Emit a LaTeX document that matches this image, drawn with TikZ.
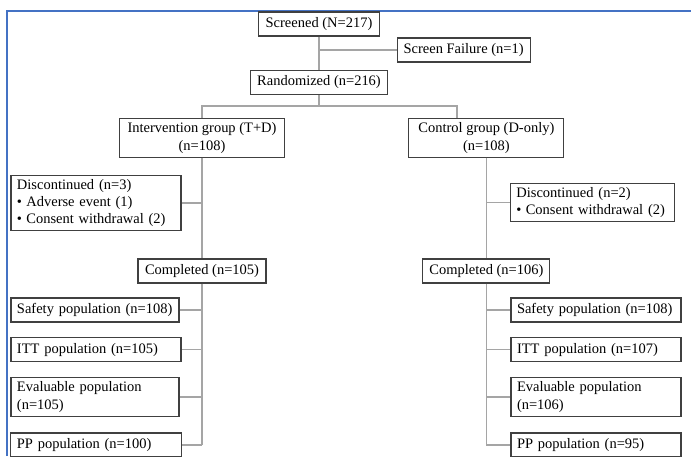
\documentclass[tikz,border=0pt]{standalone}
\usepackage{fontspec}
\setmainfont{Liberation Serif}
\usepackage{tikz}
\usetikzlibrary{positioning,calc}
\definecolor{FrameBlue}{RGB}{68,114,196}
\definecolor{BoxGray}{RGB}{64,64,64}
\definecolor{LinkGray}{RGB}{165,165,165}
\newcommand{\bul}{\textbullet\hspace{0.3em}}

\begin{document}
\begin{tikzpicture}[
 box/.style={draw=BoxGray, line width=0.8pt, fill=white, align=center, minimum height=0.6cm, inner xsep=0.15cm, inner ysep=0.1cm},
 lbox/.style={box, align=left},
 link/.style={draw=LinkGray, line width=0.8pt},
 blueline/.style={draw=FrameBlue, line width=1.4pt},
 font=\fontsize{10.3}{12.2}\selectfont
]
\useasboundingbox (0,0) rectangle (17.275,11.4);
\draw[blueline] (0.175,0) -- (0.175,11.125) -- (17.275,11.125);

\node[box, minimum width=3.025cm] (screened) at (7.975,10.8) {Screened (N=217)};
\node[box, minimum width=3.325cm] (fail) at (11.59,10.15) {Screen Failure (n=1)};
\node[box, minimum width=3.425cm] (rand) at (7.975,9.34) {Randomized (n=216)};
\node[box, minimum width=4.125cm] (interv) at (5.05,7.95) {Intervention group (T+D)\\(n=108)};
\node[box, minimum width=3.875cm] (ctrl) at (12.16,7.95) {Control group (D-only)\\(n=108)};
\node[lbox, text width=3.95cm] (discL) at (2.4,6.325) {Discontinued (n=3)\\\bul Adverse event (1)\\\bul Consent withdrawal (2)};
\node[lbox, text width=3.8cm] (discR) at (14.81,6.34) {Discontinued (n=2)\\\bul Consent withdrawal (2)};
\node[box, minimum width=3.2cm] (complL) at (5.05,4.625) {Completed (n=105)};
\node[box, minimum width=3.175cm] (complR) at (12.16,4.625) {Completed (n=106)};

\node[lbox, text width=3.9cm] (safeL) at (2.375,3.65) {Safety population (n=108)};
\node[lbox, text width=3.95cm] (ittL) at (2.4,2.66) {ITT population (n=105)};
\node[lbox, text width=3.9cm] (evalL) at (2.375,1.475) {Evaluable population\\(n=105)};
\node[lbox, text width=3.975cm] (ppL) at (2.41,0.275) {PP population (n=100)};
\node[lbox, text width=3.95cm] (safeR) at (14.9,3.65) {Safety population (n=108)};
\node[lbox, text width=3.95cm] (ittR) at (14.9,2.66) {ITT population (n=107)};
\node[lbox, text width=3.95cm] (evalR) at (14.9,1.475) {Evaluable population\\(n=106)};
\node[lbox, text width=3.95cm] (ppR) at (14.9,0.275) {PP population (n=95)};

\coordinate (splitR) at (11.425,8.75);
\draw[link] (screened) -- (rand);
\draw[link] (screened |- fail) -- (fail);
\draw[link] (rand) -- (rand |- splitR);
\draw[link] (interv) |- (splitR) -- (splitR |- ctrl.north);
\draw[link] (interv) -- (complL);
\draw[link] (ctrl) -- (complR);
\draw[link] (complL) -- (complL |- ppL);
\draw[link] (complR) -- (complR |- ppR);
\foreach \n in {discL,safeL,ittL,evalL,ppL} \draw[link] (complL |- \n) -- (\n);
\foreach \n in {discR,safeR,ittR,evalR,ppR} \draw[link] (complR |- \n) -- (\n);
\end{tikzpicture}
\end{document}
